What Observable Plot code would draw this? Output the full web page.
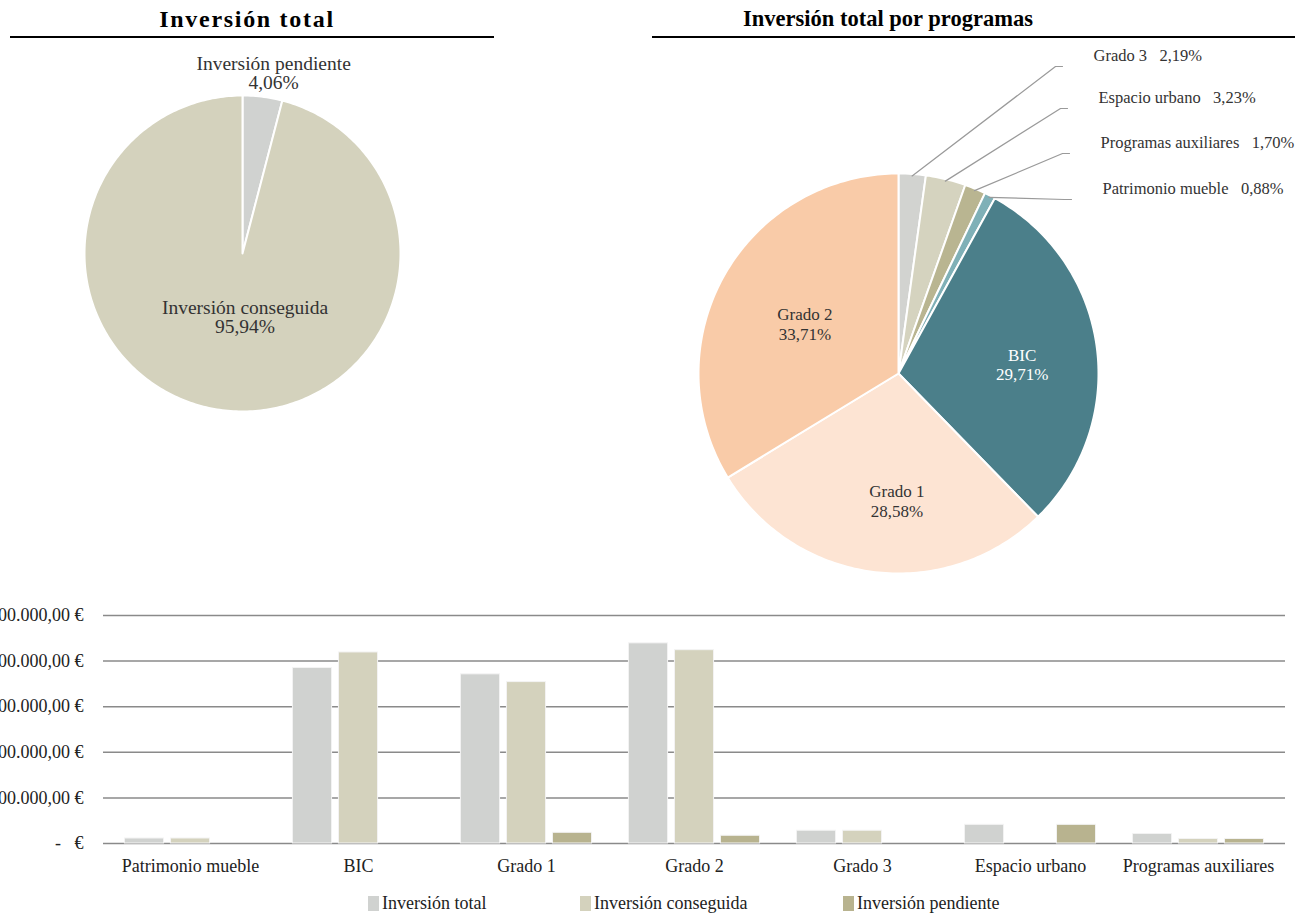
<!DOCTYPE html>
<html><head><meta charset="utf-8">
<script src="https://cdn.jsdelivr.net/npm/d3@7"></script>
<script src="https://cdn.jsdelivr.net/npm/@observablehq/plot@0.6"></script>
<style>
body{margin:0;background:#fff;font-family:"Liberation Serif",serif;}
#root{position:relative;width:1295px;height:913px;overflow:hidden;background:#fff;}
.abs{position:absolute;}
.title{font-weight:bold;text-align:center;color:#000;white-space:nowrap;}
.rule{height:2px;background:#000;}
.leg{position:absolute;top:893px;font-size:18px;color:#222;display:flex;align-items:center;gap:3px;white-space:nowrap;}
.sw{width:11px;height:15px;display:inline-block;}
</style></head><body><div id="root"></div>
<script>
// ---------- DATA ----------
const estados = ["Inversión pendiente", "Inversión conseguida"];
const estadosPct = [4.06, 95.94];

const programas = ["Grado 3", "Espacio urbano", "Programas auxiliares", "Patrimonio mueble", "BIC", "Grado 1", "Grado 2"];
const programasPct = [2.19, 3.23, 1.70, 0.88, 29.71, 28.58, 33.71];

const categorias = ["Patrimonio mueble", "BIC", "Grado 1", "Grado 2", "Grado 3", "Espacio urbano", "Programas auxiliares"];
const series = ["Inversión total", "Inversión conseguida", "Inversión pendiente"];
const inversionTotal      = [110000, 3850000, 3710000, 4390000, 280000, 410000, 210000];
const inversionConseguida = [110000, 4190000, 3540000, 4240000, 280000, 0, 100000];
const inversionPendiente  = [0, 0, 235000, 170000, 0, 410000, 100000];
const yTicks = [0, 1000000, 2000000, 3000000, 4000000, 5000000];

// ---------- STYLE ----------
const estadosColors = ["#d0d2d0", "#d4d2bd"];
const programasColors = ["#d2d3d0", "#d5d3bf", "#b9b591", "#7fb0b7", "#4b7f8a", "#fde4d3", "#f9cba8"];
const seriesColors = ["#d0d2d0", "#d4d2bd", "#b8b38f"];
const font = "Liberation Serif";
const fmtPct = v => v.toFixed(2).replace(".", ",") + "%";

const root = document.getElementById("root");
function addDiv(cls, css, html) {
  const d = document.createElement("div");
  d.className = cls; d.style.cssText = css; if (html != null) d.innerHTML = html;
  root.appendChild(d); return d;
}

// ---------- TOP: pies in one Plot (1 unit = 1 px) ----------
function pieSlices(names, values, colors, cx, cy, r) {
  const arcs = d3.pie().sort(null).value(d => d)(values);
  const pts = [];
  arcs.forEach((a, i) => {
    const n = Math.max(3, Math.ceil((a.endAngle - a.startAngle) / (Math.PI / 180)));
    pts.push({k: names[i], x: cx, y: cy, c: colors[i]});
    for (let j = 0; j <= n; j++) {
      const ang = a.startAngle + (a.endAngle - a.startAngle) * j / n;
      pts.push({k: names[i], x: cx + r * Math.sin(ang), y: cy - r * Math.cos(ang), c: colors[i]});
    }
    pts.push({k: names[i], x: cx, y: cy, c: colors[i]});
  });
  return {pts, arcs};
}
function polar(cx, cy, r, ang) { return [cx + r * Math.sin(ang), cy - r * Math.cos(ang)]; }

// left pie
const L = {cx: 242, cy: 253, r: 158};
const left = pieSlices(estados, estadosPct, estadosColors, L.cx, L.cy, L.r);
const leftTweak = [{rf: 1.15, dx: 8, dy: 0}, {rf: 0.42, dx: 11, dy: -2}];
const leftLabels = left.arcs.map((a, i) => {
  const mid = (a.startAngle + a.endAngle) / 2;
  const t = leftTweak[i];
  const [x, y] = polar(L.cx, L.cy, L.r * t.rf, mid);
  return {x: x + t.dx, y: y + t.dy, t: estados[i] + "\n" + fmtPct(estadosPct[i])};
});

// right pie
const R = {cx: 898, cy: 373, r: 200};
const right = pieSlices(programas, programasPct, programasColors, R.cx, R.cy, R.r);
const insideTweak = {"BIC": {rf: 0.62, da: 3.5}, "Grado 1": {rf: 0.635, da: -6.5}, "Grado 2": {rf: 0.53, da: -1.3}};
const inside = [];
const outsideTxt = [];
const leaders = [];
const outY = [55, 97, 142, 188], outX = [1093, 1098, 1100, 1102];
right.arcs.forEach((a, i) => {
  const mid = (a.startAngle + a.endAngle) / 2;
  const tw = insideTweak[programas[i]];
  if (tw) {
    const [x, y] = polar(R.cx, R.cy, R.r * tw.rf, mid + tw.da * Math.PI / 180);
    inside.push({x, y, t: programas[i] + "\n" + fmtPct(programasPct[i]), c: programas[i] === "BIC" ? "#ffffff" : "#333333"});
  } else {
    const [sx, sy] = polar(R.cx, R.cy, R.r * 0.99, mid);
    const lx = outX[i], ly = outY[i];
    outsideTxt.push({x: lx, y: ly, t: programas[i] + "\u00a0\u00a0\u00a0" + fmtPct(programasPct[i])});
    leaders.push({k: i, x: sx, y: sy});
    leaders.push({k: i, x: lx - 38, y: ly + 11});
    leaders.push({k: i, x: lx - 31, y: ly + 11});
  }
});

const pies = Plot.plot({
  width: 1295, height: 600, margin: 0,
  x: {domain: [0, 1295], axis: null},
  y: {domain: [0, 600], reverse: true, axis: null},
  color: {type: "identity"},
  style: {fontFamily: font, background: "transparent"},
  marks: [
    Plot.line(left.pts, {x: "x", y: "y", z: "k", fill: "c", stroke: "#ffffff", strokeWidth: 2, curve: "linear"}),
    Plot.line(right.pts, {x: "x", y: "y", z: "k", fill: "c", stroke: "#ffffff", strokeWidth: 2, curve: "linear"}),
    Plot.line(leaders, {x: "x", y: "y", z: "k", stroke: "#9a9a9a", strokeWidth: 1.2}),
    Plot.text(leftLabels, {x: "x", y: "y", text: "t", fontSize: 19.5, fill: "#333", lineHeight: 1.0}),
    Plot.text(inside, {x: "x", y: "y", text: "t", fontSize: 17, fill: "c", lineHeight: 1.15}),
    Plot.text(outsideTxt, {x: "x", y: "y", text: "t", fontSize: 16.5, fill: "#333", textAnchor: "start"})
  ]
});
pies.style.position = "absolute"; pies.style.left = "0px"; pies.style.top = "0px";
root.appendChild(pies);

// titles
addDiv("abs title", "left:47px;top:4px;width:400px;font-size:24px;letter-spacing:1.7px;line-height:30px;", "Inversión total");
addDiv("abs rule", "left:10px;top:36px;width:484px;");
addDiv("abs title", "left:688px;top:5px;width:400px;font-size:22.5px;line-height:28px;", "Inversión total por programas");
addDiv("abs rule", "left:652px;top:36px;width:643px;");

// ---------- BOTTOM: grouped bars ----------
const esLocale = d3.formatLocale({decimal: ",", thousands: ".", grouping: [3], currency: ["", "\u00a0€"]});
const fmtEur = v => v === 0 ? "-\u00a0\u00a0\u00a0€" : esLocale.format(",.2f")(v) + "\u00a0€";

const W = 1295, mL = 103, mR = 10;
const step = (W - mL - mR) / categorias.length;
const barW = 40, barGap = 6;
const groupW = 3 * barW + 2 * barGap;
const seriesValues = [inversionTotal, inversionConseguida, inversionPendiente];

const barMarks = series.map((s, si) => {
  const data = categorias.map((c, ci) => ({c, v: seriesValues[si][ci]})).filter(d => d.v > 0);
  const insetLeft = (step - groupW) / 2 + si * (barW + barGap);
  const insetRight = step - insetLeft - barW;
  return Plot.barY(data, {x: "c", y: "v", fill: seriesColors[si], stroke: "#f4f4f4", strokeWidth: 1, insetLeft, insetRight});
});

const bars = Plot.plot({
  width: W, height: 285, marginLeft: mL, marginRight: mR, marginTop: 15, marginBottom: 42,
  x: {domain: categorias, padding: 0, tickSize: 0, tickPadding: 16, label: null},
  y: {domain: [0, 5000000], ticks: yTicks, tickFormat: fmtEur, tickSize: 0, tickPadding: 20, label: null},
  style: {fontFamily: font, fontSize: "18px", color: "#222", background: "transparent", overflow: "visible"},
  marks: [
    Plot.ruleY(yTicks, {stroke: "#8a8a8a", strokeWidth: 1.5}),
    ...barMarks
  ]
});
bars.style.position = "absolute"; bars.style.left = "0px"; bars.style.top = "600px";
root.appendChild(bars);

// legend
const legX = [368, 580, 843];
series.forEach((s, i) => {
  addDiv("leg", `left:${legX[i]}px;`, `<span class="sw" style="background:${seriesColors[i]}"></span><span>${s}</span>`);
});
</script>
</body></html>
